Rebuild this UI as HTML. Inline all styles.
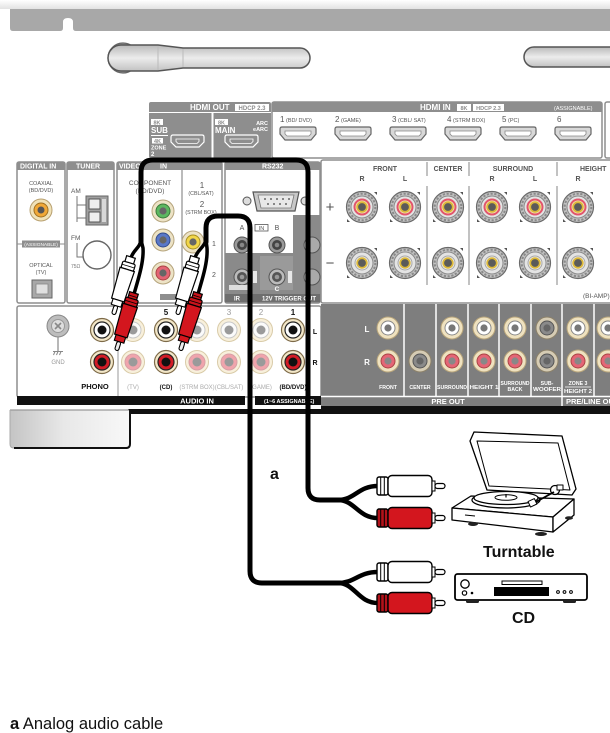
<!DOCTYPE html>
<html><head><meta charset="utf-8">
<style>
html,body{margin:0;padding:0;background:#fff;}
svg{display:block;}
text{font-family:"Liberation Sans",Arial,sans-serif;}
</style></head><body>
<svg width="610" height="733" viewBox="0 0 610 733" xmlns="http://www.w3.org/2000/svg">
<defs>
 <linearGradient id="topg" x1="0" y1="0" x2="0" y2="1"><stop offset="0" stop-color="#fff"/><stop offset="1" stop-color="#e2e2e2"/></linearGradient>
 <linearGradient id="ant" x1="0" y1="0" x2="0" y2="1"><stop offset="0" stop-color="#b9b9b9"/><stop offset="0.5" stop-color="#ececec"/><stop offset="1" stop-color="#c2c2c2"/></linearGradient>
 <linearGradient id="foot" x1="0" y1="0" x2="1" y2="0"><stop offset="0" stop-color="#c4c4c4"/><stop offset="0.45" stop-color="#e8e8e8"/><stop offset="1" stop-color="#f8f8f8"/></linearGradient>
 <g id="spkP">
  <circle r="15.5" fill="#c2c2c2" stroke="#6a6a6a" stroke-width="1.2"/>
  <circle r="13.3" fill="none" stroke="#8a8a8a" stroke-width="2" stroke-dasharray="2.2 1.6"/>
  <circle r="11" fill="#e4e4e4" stroke="#8a8a8a"/>
  <circle r="7.5" fill="#f1e3b0" stroke="#e2556c" stroke-width="2"/>
  <circle r="4.8" fill="#5a5a5a" stroke="#dcb83a" stroke-width="1.8"/>
  <path d="M12 -15 L15 -15 L15 -12Z" fill="#555"/>
  <path d="M-15 12 L-15 15 L-12 15Z" fill="#555"/>
 </g>
 <g id="spkM">
  <circle r="15.5" fill="#c2c2c2" stroke="#6a6a6a" stroke-width="1.2"/>
  <circle r="13.3" fill="none" stroke="#8a8a8a" stroke-width="2" stroke-dasharray="2.2 1.6"/>
  <circle r="11" fill="#e4e4e4" stroke="#8a8a8a"/>
  <circle r="7" fill="#ececec" stroke="#a8a8a8"/>
  <circle r="4.8" fill="#5a5a5a" stroke="#dcb83a" stroke-width="1.8"/>
  <path d="M12 -15 L15 -15 L15 -12Z" fill="#555"/>
  <path d="M-15 12 L-15 15 L-12 15Z" fill="#555"/>
 </g>
 <g id="pjW"><circle r="11" fill="#efe2c0" stroke="#b9a67c"/><circle r="7" fill="#fff" stroke="#888"/><circle r="3.6" fill="#777"/></g>
 <g id="pjR"><circle r="11" fill="#efe2c0" stroke="#b9a67c"/><circle r="7" fill="#e46676" stroke="#a44"/><circle r="3.6" fill="#888"/></g>
 <g id="pjG"><circle r="11" fill="#d6ccb4" stroke="#8d826a"/><circle r="7" fill="#8a8a8a" stroke="#555"/><circle r="3.6" fill="#666"/></g>
 <g id="ajW"><circle r="11.5" fill="#f3e7c8" stroke="#7d6a48" stroke-width="1.2"/><circle r="8" fill="#fff" stroke="#222" stroke-width="1.2"/><circle r="4.5" fill="#111"/></g>
 <g id="ajR"><circle r="11.5" fill="#f3e7c8" stroke="#7d6a48" stroke-width="1.2"/><circle r="8" fill="#d31c26" stroke="#222" stroke-width="1.2"/><circle r="4.5" fill="#111"/></g>
 <g id="afW"><circle r="11.5" fill="#f8f0dc" stroke="#d9cba8"/><circle r="8" fill="#fbfbfb" stroke="#c8c8c8"/><circle r="4.5" fill="#9a9a9a"/></g>
 <g id="afR"><circle r="11.5" fill="#f8f0dc" stroke="#d9cba8"/><circle r="8" fill="#f0a4ac" stroke="#d7a0a6"/><circle r="4.5" fill="#9a9a9a"/></g>
 <g id="hp"><path d="M0 2Q0 0 2 0H34Q36 0 36 2V7L31 13H5L0 7Z" fill="#d8d8d8" stroke="#666" stroke-width="1.2"/><path d="M5 4H31V7L29 9H7L5 7Z" fill="#fff" stroke="#888" stroke-width="0.8"/></g>
 <g id="hpo"><path d="M0 2Q0 0 2 0H31Q33 0 33 2V7L28 12H5L0 7Z" fill="#8e8e8e" stroke="#fff" stroke-width="1.2"/><path d="M5 4H28V6.5L26 8.5H7L5 6.5Z" fill="#8e8e8e" stroke="#fff" stroke-width="0.8"/></g>
 <g id="rplugW">
  <rect x="-4.5" y="0" width="9" height="7" fill="#fff" stroke="#000" stroke-width="1.2"/>
  <rect x="-6.5" y="6" width="13" height="7" rx="1.5" fill="#fff" stroke="#000" stroke-width="1.2"/>
  <line x1="-6" y1="9.5" x2="6" y2="9.5" stroke="#000" stroke-width="0.8"/>
  <path d="M-7.5 13 H7.5 L6.5 45 H-6.5 Z" fill="#fff" stroke="#000" stroke-width="1.2"/>
  <rect x="-5" y="45" width="10" height="6" fill="#fff" stroke="#000" stroke-width="1.1"/>
  <rect x="-2" y="51" width="4" height="9" rx="2" fill="#fff" stroke="#000" stroke-width="1.1"/>
 </g>
 <g id="rplugR">
  <rect x="-4.5" y="0" width="9" height="7" fill="#c8131b" stroke="#000" stroke-width="1.2"/>
  <rect x="-6.5" y="6" width="13" height="7" rx="1.5" fill="#c8131b" stroke="#000" stroke-width="1.2"/>
  <line x1="-6" y1="9.5" x2="6" y2="9.5" stroke="#000" stroke-width="0.8"/>
  <line x1="-4" y1="3.5" x2="4" y2="3.5" stroke="#000" stroke-width="0.8"/>
  <path d="M-7.5 13 H7.5 L6.5 45 H-6.5 Z" fill="#d3161e" stroke="#000" stroke-width="1.2"/>
  <rect x="-5" y="45" width="10" height="6" fill="#d3161e" stroke="#000" stroke-width="1.1"/>
  <rect x="-2" y="51" width="4" height="9" rx="2" fill="#eee" stroke="#000" stroke-width="1.1"/>
 </g>
 <g id="hplugW">
  <rect x="0" y="-9" width="11" height="18" rx="2" fill="#fff" stroke="#000" stroke-width="1.4"/>
  <line x1="3.7" y1="-9" x2="3.7" y2="9" stroke="#000"/>
  <line x1="7.3" y1="-9" x2="7.3" y2="9" stroke="#000"/>
  <rect x="11" y="-10.5" width="44" height="21" rx="4" fill="#fff" stroke="#000" stroke-width="1.4"/>
  <rect x="55" y="-5" width="3" height="10" fill="#fff" stroke="#000"/>
  <rect x="58" y="-2.5" width="10" height="5" rx="2.5" fill="#fff" stroke="#000" stroke-width="1.2"/>
 </g>
 <g id="hplugR">
  <rect x="0" y="-9" width="11" height="18" rx="2" fill="#b3121a" stroke="#000" stroke-width="1.4"/>
  <line x1="3.7" y1="-9" x2="3.7" y2="9" stroke="#000"/>
  <line x1="7.3" y1="-9" x2="7.3" y2="9" stroke="#000"/>
  <rect x="11" y="-10.5" width="44" height="21" rx="4" fill="#d3161e" stroke="#000" stroke-width="1.4"/>
  <rect x="55" y="-5" width="3" height="10" fill="#fff" stroke="#000"/>
  <rect x="58" y="-2.5" width="10" height="5" rx="2.5" fill="#fff" stroke="#000" stroke-width="1.2"/>
 </g>
</defs>

<rect width="610" height="733" fill="#fff"/>
<!-- top bar -->
<rect x="0" y="0" width="610" height="9" fill="url(#topg)"/>
<path d="M10 9H610V31H13Q10 31 10 28Z" fill="#a8a8a8"/>
<path d="M60 31Q63 31 63 28V22Q63 18 68 18Q73 18 73 22V28Q73 31 76 31Z" fill="#fff"/>

<!-- antennas -->
<circle cx="123" cy="58" r="15" fill="#9a9a9a" stroke="#666" stroke-width="1.2"/>
<path d="M121 45H158L183 48H300A10 10 0 0 1 300 68H183L158 71H121A13 13 0 0 1 121 45Z" fill="url(#ant)" stroke="#555" stroke-width="1.5"/>
<line x1="158" y1="46" x2="158" y2="70" stroke="#bbb"/>
<line x1="183" y1="49" x2="183" y2="67" stroke="#bbb"/>
<path d="M534 47H612V67H534A10 10 0 0 1 534 47Z" fill="url(#ant)" stroke="#555" stroke-width="1.5"/>

<!-- HDMI OUT -->
<rect x="149" y="102" width="122" height="56" rx="2" fill="#8e8e8e"/>
<line x1="149" y1="112.5" x2="271" y2="112.5" stroke="#fff"/>
<rect x="211.5" y="113" width="2" height="45" fill="#fff"/>
<text x="190" y="110" font-size="8" font-weight="bold" fill="#fff">HDMI OUT</text>
<rect x="235" y="104" width="34" height="7" fill="#fff"/>
<text x="252" y="110" font-size="6" fill="#8e8e8e" text-anchor="middle" font-weight="bold">HDCP 2.3</text>
<rect x="151" y="119" width="12" height="6" fill="#fff"/><text x="157" y="124.5" font-size="5.5" fill="#8e8e8e" text-anchor="middle" font-weight="bold">8K</text>
<text x="151" y="133" font-size="8" fill="#fff" font-weight="bold">SUB</text>
<line x1="151" y1="135.5" x2="168" y2="135.5" stroke="#fff"/>
<rect x="152" y="138" width="11" height="5.5" fill="#fff"/><text x="157.5" y="143" font-size="5.5" fill="#8e8e8e" text-anchor="middle" font-weight="bold">4K</text>
<text x="151" y="149.5" font-size="5.5" fill="#fff" font-weight="bold">ZONE</text>
<text x="151" y="156" font-size="6" fill="#fff" font-weight="bold">2</text>
<use href="#hpo" x="171" y="135"/>
<rect x="215" y="119" width="13" height="6" fill="#fff"/><text x="221.5" y="124.5" font-size="5.5" fill="#8e8e8e" text-anchor="middle" font-weight="bold">8K</text>
<text x="215" y="133" font-size="8" fill="#fff" font-weight="bold">MAIN</text>
<text x="268" y="125" font-size="5.5" fill="#fff" text-anchor="end" font-weight="bold">ARC</text>
<text x="268" y="131" font-size="5.5" fill="#fff" text-anchor="end" font-weight="bold">eARC</text>
<use href="#hpo" x="225" y="135"/>

<!-- HDMI IN -->
<rect x="272" y="102" width="330" height="56" rx="2" fill="#fff" stroke="#8e8e8e" stroke-width="1.5"/>
<rect x="272" y="102" width="330" height="10" fill="#8e8e8e"/>
<text x="420" y="110" font-size="8" font-weight="bold" fill="#fff">HDMI IN</text>
<rect x="457" y="104" width="14" height="7" fill="#fff"/><text x="464" y="110" font-size="5.5" fill="#8e8e8e" text-anchor="middle" font-weight="bold">8K</text>
<rect x="473" y="104" width="31" height="7" fill="#fff"/><text x="488.5" y="110" font-size="5.5" fill="#8e8e8e" text-anchor="middle" font-weight="bold">HDCP 2.3</text>
<text x="554" y="110" font-size="5.5" fill="#fff">(ASSIGNABLE)</text>
<g font-size="5.5" fill="#555">
<text x="280" y="122"><tspan font-size="8">1</tspan> (BD/ DVD)</text>
<text x="335" y="122"><tspan font-size="8">2</tspan> (GAME)</text>
<text x="392" y="122"><tspan font-size="8">3</tspan> (CBL/ SAT)</text>
<text x="447" y="122"><tspan font-size="8">4</tspan> (STRM BOX)</text>
<text x="502" y="122"><tspan font-size="8">5</tspan> (PC)</text>
<text x="557" y="122"><tspan font-size="8">6</tspan></text>
</g>
<use href="#hp" x="280" y="127"/><use href="#hp" x="335" y="127"/><use href="#hp" x="390" y="127"/>
<use href="#hp" x="445" y="127"/><use href="#hp" x="500" y="127"/><use href="#hp" x="555" y="127"/>
<rect x="605" y="102" width="8" height="56" rx="2" fill="#fff" stroke="#8e8e8e" stroke-width="1.5"/>

<!-- upper panels -->
<g stroke="#8e8e8e" stroke-width="1.5" fill="#fff">
<rect x="17" y="162" width="48" height="141" rx="2"/>
<rect x="67" y="162" width="47" height="141" rx="2"/>
<rect x="117" y="162" width="105" height="141" rx="2"/>
<rect x="225" y="162" width="95" height="141" rx="2"/>
<rect x="321" y="160" width="295" height="143" rx="2"/>
</g>
<g fill="#8e8e8e">
<rect x="17" y="162" width="48" height="8"/>
<rect x="67" y="162" width="47" height="8"/>
<rect x="117" y="162" width="105" height="8"/>
<rect x="225" y="162" width="95" height="8"/>
</g>
<g font-size="7" font-weight="bold" fill="#fff">
<text x="20" y="168.5">DIGITAL IN</text>
<text x="76" y="168.5">TUNER</text>
<text x="119" y="168.5">VIDEO</text>
<text x="160" y="168.5">IN</text>
<text x="262" y="168.5">RS232</text>
</g>
<!-- digital in -->
<g font-size="5.5" fill="#555" text-anchor="middle">
<text x="41" y="185">COAXIAL</text><text x="41" y="192">(BD/DVD)</text>
<text x="41" y="267">OPTICAL</text><text x="41" y="274">(TV)</text>
</g>
<circle cx="41" cy="210" r="11" fill="#f0e2b8" stroke="#b8a070"/>
<circle cx="41" cy="210" r="7" fill="#f0a838" stroke="#a07020"/>
<circle cx="41" cy="210" r="3.5" fill="#555"/>
<line x1="17" y1="244" x2="65" y2="244" stroke="#8e8e8e"/>
<rect x="22" y="240.5" width="38" height="7" fill="#8e8e8e"/>
<text x="41" y="246" font-size="4.8" fill="#fff" text-anchor="middle">(ASSIGNABLE)</text>
<rect x="32" y="280" width="20" height="18" fill="#a8a8a8" stroke="#666"/>
<rect x="36" y="284" width="12" height="10" fill="#e0e0e0" stroke="#888" stroke-width="0.8"/>
<!-- tuner -->
<text x="71" y="193" font-size="6.5" fill="#555">AM</text>
<path d="M77 196V222M77 205H86M77 218H86" stroke="#777" fill="none"/>
<rect x="86" y="196" width="22" height="29" fill="#a0a0a0" stroke="#666"/>
<rect x="89" y="199" width="11" height="10" fill="#eee" stroke="#555"/>
<rect x="89" y="212" width="11" height="10" fill="#eee" stroke="#555"/>
<rect x="102" y="199" width="4" height="23" fill="#d8d8d8"/>
<text x="71" y="240" font-size="6.5" fill="#555">FM</text>
<path d="M77 243V257H84" stroke="#777" fill="none"/>
<circle cx="97" cy="255" r="14" fill="#fff" stroke="#666" stroke-width="1.4"/>
<text x="71" y="268" font-size="5" fill="#777">75Ω</text>
<!-- video -->
<line x1="182" y1="170" x2="182" y2="303" stroke="#8e8e8e" stroke-width="1.2"/>
<g font-size="6.5" fill="#555" text-anchor="middle">
<text x="150" y="185">COMPONENT</text><text x="150" y="193">(BD/DVD)</text>
<text x="202" y="188" font-size="8">1</text><text x="201" y="195" font-size="5.3">(CBL/SAT)</text>
<text x="202" y="207" font-size="8">2</text><text x="201" y="214" font-size="5.3">(STRM BOX)</text>
<text x="214" y="246" font-size="7">1</text><text x="214" y="277" font-size="7">2</text>
</g>
<g>
<circle cx="163" cy="211" r="11" fill="#ede3c6" stroke="#b5a47c"/><circle cx="163" cy="211" r="7" fill="#5cb860" stroke="#3a7a3a"/><circle cx="163" cy="211" r="3.6" fill="#666"/>
<circle cx="163" cy="240" r="11" fill="#ede3c6" stroke="#b5a47c"/><circle cx="163" cy="240" r="7" fill="#5a78c8" stroke="#344c8c"/><circle cx="163" cy="240" r="3.6" fill="#666"/>
<circle cx="163" cy="273" r="11" fill="#ede3c6" stroke="#b5a47c"/><circle cx="163" cy="273" r="7" fill="#e36474" stroke="#a44"/><circle cx="163" cy="273" r="3.6" fill="#666"/>
<circle cx="193" cy="242" r="11" fill="#ede3c6" stroke="#b5a47c"/><circle cx="193" cy="242" r="7" fill="#f2d64a" stroke="#a89020"/><circle cx="193" cy="242" r="3.6" fill="#666"/>
</g>
<rect x="160" y="294" width="16" height="6" fill="#8e8e8e"/>
<!-- rs232 / remote -->
<circle cx="247" cy="201" r="4" fill="#ddd" stroke="#555"/>
<path d="M253 192H299L295 211H257Z" fill="#c8c8c8" stroke="#555" stroke-width="1.2"/>
<path d="M258 195H294L291 208H261Z" fill="#e8e8e8" stroke="#777" stroke-width="0.8"/>
<g fill="#666"><circle cx="265" cy="199" r="1"/><circle cx="271" cy="199" r="1"/><circle cx="277" cy="199" r="1"/><circle cx="283" cy="199" r="1"/><circle cx="289" cy="199" r="1"/><circle cx="268" cy="204" r="1"/><circle cx="274" cy="204" r="1"/><circle cx="280" cy="204" r="1"/><circle cx="286" cy="204" r="1"/></g>
<circle cx="305" cy="201" r="4" fill="#ddd" stroke="#555"/>
<rect x="293" y="215" width="27" height="88" fill="#8a8a8a"/>
<rect x="225" y="253" width="95" height="50" fill="#8a8a8a"/>
<rect x="260" y="256" width="33" height="34" fill="#9a9a9a"/>
<text x="242" y="230" font-size="7" fill="#555" text-anchor="middle">A</text>
<rect x="255" y="224.5" width="13" height="6.5" fill="#fff" stroke="#555" stroke-width="0.8"/>
<text x="261.5" y="230" font-size="5.5" fill="#555" text-anchor="middle">IN</text>
<text x="277" y="230" font-size="7" fill="#555" text-anchor="middle">B</text>
<g>
<circle cx="242" cy="245" r="8" fill="#9a9a9a" stroke="#555"/><circle cx="242" cy="245" r="5" fill="#444"/><circle cx="242" cy="245" r="2.3" fill="#888"/>
<circle cx="277" cy="245" r="8" fill="#9a9a9a" stroke="#555"/><circle cx="277" cy="245" r="5" fill="#444"/><circle cx="277" cy="245" r="2.3" fill="#888"/>
<circle cx="242" cy="277" r="8" fill="#bbb" stroke="#555"/><circle cx="242" cy="277" r="5" fill="#555"/><circle cx="242" cy="277" r="2.3" fill="#999"/>
<circle cx="277" cy="277" r="8" fill="#bbb" stroke="#555"/><circle cx="277" cy="277" r="5" fill="#555"/><circle cx="277" cy="277" r="2.3" fill="#999"/>
<circle cx="312" cy="245" r="8" fill="#aaa" stroke="#555"/><circle cx="312" cy="277" r="8" fill="#aaa" stroke="#555"/>
</g>
<rect x="253" y="271" width="4" height="12" fill="#e8e8e8"/>
<rect x="288" y="271" width="4" height="12" fill="#e8e8e8"/>
<text x="277" y="291" font-size="6.5" fill="#fff" text-anchor="middle" font-weight="bold">C</text>
<rect x="229" y="285" width="20" height="5" fill="#ddd"/>
<rect x="225" y="294" width="95" height="8" fill="#6e6e6e"/>
<text x="262" y="300.5" font-size="6" fill="#fff" font-weight="bold">12V TRIGGER OUT</text>
<text x="234" y="300.5" font-size="6" fill="#fff" font-weight="bold">IR</text>

<!-- speaker terminals -->
<g font-size="7" fill="#555" text-anchor="middle" font-weight="bold">
<text x="385" y="171">FRONT</text><text x="362" y="181">R</text><text x="405" y="181">L</text>
<text x="448" y="171">CENTER</text>
<text x="513" y="171">SURROUND</text><text x="492" y="181">R</text><text x="535" y="181">L</text>
<text x="580" y="171" text-anchor="start">HEIGHT</text><text x="578" y="181">R</text>
</g>
<g stroke="#999" stroke-width="1.2">
<line x1="427" y1="162" x2="427" y2="176"/><line x1="469" y1="162" x2="469" y2="176"/><line x1="557" y1="162" x2="557" y2="176"/>
<line x1="427" y1="186" x2="427" y2="285"/><line x1="469" y1="186" x2="469" y2="285"/><line x1="557" y1="186" x2="557" y2="285"/>
</g>
<text x="330" y="212" font-size="15" fill="#555" text-anchor="middle">+</text>
<text x="330" y="268" font-size="15" fill="#555" text-anchor="middle">−</text>
<use href="#spkP" x="362" y="207"/><use href="#spkP" x="405" y="207"/><use href="#spkP" x="448" y="207"/>
<use href="#spkP" x="492" y="207"/><use href="#spkP" x="535" y="207"/><use href="#spkP" x="578" y="207"/>
<use href="#spkM" x="362" y="263"/><use href="#spkM" x="405" y="263"/><use href="#spkM" x="448" y="263"/>
<use href="#spkM" x="492" y="263"/><use href="#spkM" x="535" y="263"/><use href="#spkM" x="578" y="263"/>
<text x="583" y="298" font-size="6.5" fill="#555">(BI-AMP)</text>

<!-- audio in panel -->
<rect x="17" y="306" width="304" height="91" rx="2" fill="#fff" stroke="#8e8e8e" stroke-width="1.5"/>
<line x1="118" y1="336" x2="118" y2="396" stroke="#aaa" stroke-width="1.2"/>
<circle cx="58" cy="326" r="11" fill="#bdbdbd" stroke="#888"/>
<circle cx="58" cy="326" r="6.5" fill="#dedede" stroke="#999"/>
<path d="M55 323L61 329M61 323L55 329" stroke="#888" stroke-width="1.6"/>
<line x1="58" y1="337" x2="58" y2="351" stroke="#888" stroke-width="1.2"/>
<path d="M53 351.5H63M55 351.5L53.5 355M58 351.5L56.5 355M61 351.5L59.5 355" stroke="#888" stroke-width="1" fill="none"/>
<text x="58" y="364" font-size="6" fill="#999" text-anchor="middle">GND</text>
<text x="95" y="389" font-size="7.5" fill="#111" text-anchor="middle" font-weight="bold">PHONO</text>
<g font-size="8" text-anchor="middle">
<text x="166" y="315" fill="#111" font-weight="bold">5</text>
<text x="229" y="315" fill="#999">3</text>
<text x="261" y="315" fill="#999">2</text>
<text x="293" y="315" fill="#111" font-weight="bold">1</text>
</g>
<g font-size="6" text-anchor="middle">
<text x="133" y="389" fill="#aaa">(TV)</text>
<text x="166" y="389" fill="#111" font-weight="bold">(CD)</text>
<text x="197" y="389" fill="#aaa">(STRM BOX)</text>
<text x="229" y="389" fill="#aaa">(CBL/SAT)</text>
<text x="261" y="389" fill="#aaa">(GAME)</text>
<text x="293" y="389" fill="#111" font-weight="bold">(BD/DVD)</text>
</g>
<text x="315" y="334" font-size="7" fill="#111" font-weight="bold" text-anchor="middle">L</text>
<text x="315" y="365" font-size="7" fill="#111" font-weight="bold" text-anchor="middle">R</text>
<use href="#ajW" x="102" y="330"/><use href="#ajR" x="102" y="362"/>
<use href="#afW" x="133" y="330"/><use href="#afR" x="133" y="362"/>
<use href="#ajW" x="166" y="330"/><use href="#ajR" x="166" y="362"/>
<use href="#afW" x="197" y="330"/><use href="#afR" x="197" y="362"/>
<use href="#afW" x="229" y="330"/><use href="#afR" x="229" y="362"/>
<use href="#afW" x="261" y="330"/><use href="#afR" x="261" y="362"/>
<use href="#ajW" x="293" y="330"/><use href="#ajR" x="293" y="362"/>
<rect x="17" y="396" width="228" height="9" fill="#111"/>
<rect x="255" y="396" width="66" height="9" fill="#111"/>
<text x="197" y="403.5" font-size="7.5" fill="#fff" font-weight="bold" text-anchor="middle">AUDIO IN</text>
<text x="264" y="403" font-size="5.5" fill="#fff" font-weight="bold">(1~6 ASSIGNABLE)</text>

<!-- pre out panel -->
<rect x="321" y="304" width="292" height="102" fill="#7e7e7e"/>
<g stroke="#fff" stroke-width="1.5">
<line x1="404" y1="304" x2="404" y2="396"/><line x1="436" y1="304" x2="436" y2="396"/>
<line x1="468" y1="304" x2="468" y2="396"/><line x1="499" y1="304" x2="499" y2="396"/>
<line x1="531" y1="304" x2="531" y2="396"/><line x1="562" y1="304" x2="562" y2="406"/>
<line x1="594" y1="304" x2="594" y2="396"/>
<line x1="321" y1="396.5" x2="612" y2="396.5"/>
</g>
<text x="367" y="332" font-size="8" fill="#fff" font-weight="bold" text-anchor="middle">L</text>
<text x="367" y="365" font-size="8" fill="#fff" font-weight="bold" text-anchor="middle">R</text>
<use href="#pjW" x="388" y="328"/><use href="#pjR" x="388" y="361"/>
<use href="#pjG" x="420" y="361"/>
<use href="#pjW" x="452" y="328"/><use href="#pjR" x="452" y="361"/>
<use href="#pjW" x="484" y="328"/><use href="#pjR" x="484" y="361"/>
<use href="#pjW" x="515" y="328"/><use href="#pjR" x="515" y="361"/>
<use href="#pjG" x="547" y="328"/><use href="#pjG" x="547" y="361"/>
<use href="#pjW" x="578" y="328"/><use href="#pjR" x="578" y="361"/>
<use href="#pjW" x="608" y="328"/><use href="#pjR" x="608" y="361"/>
<g font-size="5.2" fill="#fff" text-anchor="middle" font-weight="bold">
<text x="388" y="389">FRONT</text>
<text x="420" y="389">CENTER</text>
<text x="452" y="389" textLength="30" lengthAdjust="spacingAndGlyphs">SURROUND</text>
<text x="484" y="389" textLength="29" lengthAdjust="spacingAndGlyphs">HEIGHT 1</text>
<text x="515" y="385" textLength="29" lengthAdjust="spacingAndGlyphs">SURROUND</text><text x="515" y="391">BACK</text>
<text x="547" y="385">SUB-</text><text x="547" y="391" textLength="28" lengthAdjust="spacingAndGlyphs">WOOFER</text>
<text x="578" y="385">ZONE 3</text><text x="578" y="393" textLength="28" lengthAdjust="spacingAndGlyphs">HEIGHT 2</text>
</g>
<line x1="565" y1="387" x2="591" y2="387" stroke="#fff" stroke-width="0.8"/>
<text x="448" y="404" font-size="7.5" fill="#fff" font-weight="bold" text-anchor="middle">PRE OUT</text>
<text x="566" y="404" font-size="7.5" fill="#fff" font-weight="bold">PRE/LINE OUT</text>
<rect x="321" y="406" width="292" height="8" fill="#111"/>
<rect x="128" y="409" width="194" height="5" fill="#111"/>

<!-- foot box -->
<path d="M10 410H130V444Q130 448 126 448H14Q10 448 10 444Z" fill="url(#foot)"/>
<path d="M10 410H130" stroke="#999" stroke-width="1.2"/>
<path d="M10 410V444Q10 448 14 448" stroke="#aaa" stroke-width="1" fill="none"/>
<path d="M130 409V444Q130 448 126 448H14" stroke="#111" stroke-width="2" fill="none"/>

<!-- cables -->
<g fill="none" stroke="#000" stroke-linecap="round" stroke-linejoin="round">
<path d="M141 242V172Q141 160 153 160H296Q308 160 308 172V488Q308 500 320 500H340" stroke-width="5"/>
<path d="M206 242V228Q206 216 218 216H238Q250 216 250 228V571Q250 583 262 583H340" stroke-width="5"/>
<path d="M338 500C355 500 358 486 378 486" stroke-width="4.5"/>
<path d="M338 500C355 500 358 518 378 518" stroke-width="4.5"/>
<path d="M338 583C355 583 358 572 378 572" stroke-width="4.5"/>
<path d="M338 583C355 583 358 603 378 603" stroke-width="4.5"/>
<path d="M131 258C133 250 140 248 141 240" stroke-width="3.5"/>
<path d="M134 294C138 280 144 262 143 248L141 240" stroke-width="3.5"/>
<path d="M195 258C197 250 204 248 206 240" stroke-width="3.5"/>
<path d="M198 294C202 280 208 262 207 248L206 240" stroke-width="3.5"/>
</g>

<!-- receiver plugs -->
<use href="#rplugW" transform="translate(131,257) rotate(17)"/>
<use href="#rplugR" transform="translate(134,293) rotate(17)"/>
<use href="#rplugW" transform="translate(195,257) rotate(17)"/>
<use href="#rplugR" transform="translate(198,293) rotate(17)"/>

<!-- external plugs -->
<use href="#hplugW" x="377" y="486"/>
<use href="#hplugR" x="377" y="518"/>
<use href="#hplugW" x="377" y="572"/>
<use href="#hplugR" x="377" y="603"/>

<!-- turntable -->
<g stroke="#000" stroke-width="1.3" stroke-linejoin="round" fill="#fff">
<path d="M470 441L474 432L562 436L576 489L572 495L487 490Z"/>
<path d="M477 441L558 443L570 490L489 486Z" fill="none" stroke-width="1"/>
<path d="M452 508L471 496L574 499L553 517Z"/>
<path d="M452 508L553 517L553 532L452 520Z"/>
<path d="M553 517L574 499L574 515L553 532Z"/>
<ellipse cx="506" cy="500" rx="34" ry="8"/>
<ellipse cx="506" cy="498" rx="32" ry="6.5"/>
<ellipse cx="506" cy="497.5" rx="11" ry="2.8" stroke-width="1"/>
<line x1="506" y1="494" x2="506" y2="497.5" stroke-width="1.2"/>
<circle cx="555" cy="490" r="4.5"/>
<rect x="557" y="485" width="6" height="5" stroke-width="1"/>
<path d="M554 492L534 503" fill="none" stroke-width="1.8"/>
<rect x="529" y="500" width="7" height="6" stroke-width="1" transform="rotate(-25 532 503)"/>
<line x1="465" y1="515" x2="475" y2="516" stroke-width="1"/>
<line x1="560" y1="511" x2="567" y2="505" stroke-width="1"/>
</g>
<ellipse cx="473" cy="524" rx="5" ry="2" fill="#222"/>
<ellipse cx="541" cy="534" rx="6" ry="2" fill="#222"/>
<ellipse cx="569" cy="518" rx="4" ry="1.8" fill="#222"/>
<text x="483" y="557" font-size="16" font-weight="bold" fill="#111">Turntable</text>

<!-- CD player -->
<rect x="455" y="574" width="132" height="26" rx="2.5" fill="#fff" stroke="#000" stroke-width="1.8"/>
<rect x="466" y="600" width="13" height="3" rx="1.5" fill="#222"/>
<rect x="563" y="600" width="13" height="3" rx="1.5" fill="#222"/>
<circle cx="465" cy="584" r="4.2" fill="#fff" stroke="#000" stroke-width="1.3"/>
<circle cx="464.5" cy="593" r="2.2" fill="#fff" stroke="#000" stroke-width="1.2"/>
<circle cx="472" cy="593" r="1.3" fill="#000"/>
<rect x="502" y="581" width="40" height="3.5" fill="#fff" stroke="#000" stroke-width="1"/>
<rect x="494" y="587" width="55" height="9" fill="#000"/>
<circle cx="558" cy="592" r="1.4" fill="#fff" stroke="#000" stroke-width="1"/>
<circle cx="564.5" cy="592" r="1.4" fill="#fff" stroke="#000" stroke-width="1"/>
<circle cx="571" cy="592" r="1.4" fill="#fff" stroke="#000" stroke-width="1"/>
<text x="512" y="623" font-size="16" font-weight="bold" fill="#111">CD</text>

<!-- label a -->
<text x="270" y="479" font-size="16" font-weight="bold" fill="#111">a</text>

<!-- caption -->
<text x="10" y="729" font-size="16.5" fill="#111"><tspan font-weight="bold">a</tspan> Analog audio cable</text>
</svg>
</body></html>
